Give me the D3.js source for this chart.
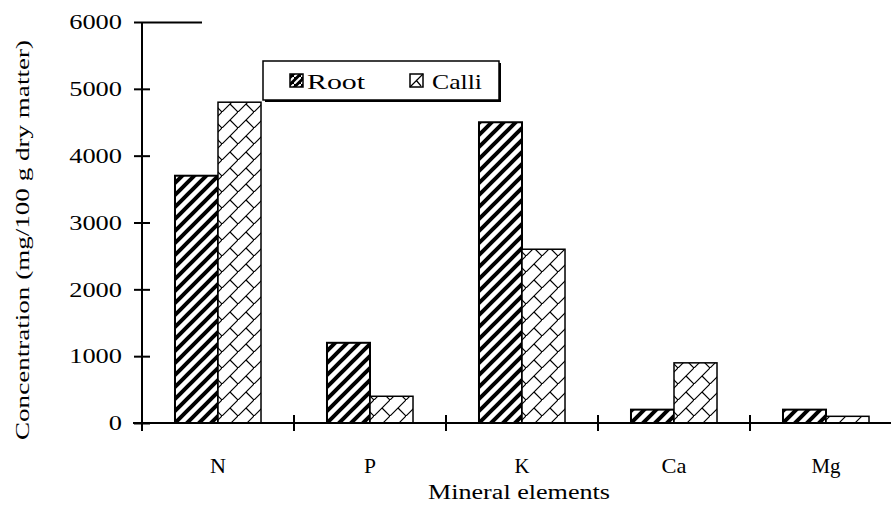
<!DOCTYPE html>
<html>
<head>
<meta charset="utf-8">
<script src="https://cdn.jsdelivr.net/npm/d3@7"></script>
<style>
  body { margin: 0; background: #fff; }
  text { font-family: "Liberation Serif", "Times New Roman", serif; fill: #000; }
</style>
</head>
<body>
<svg id="chart" width="891" height="506"></svg>
<script>
// data
let elements = ['N', 'P', 'K', 'Ca', 'Mg'];
let series = ['Root', 'Calli'];
let rootVals = [3700, 1200, 4500, 200, 200];
let calliVals = [4800, 400, 2600, 900, 100];
let yTicks = [0, 1000, 2000, 3000, 4000, 5000, 6000];

let svg = d3.select('#chart');

// patterns
let defs = svg.append('defs');
let pRoot = defs.append('pattern').attr('id', 'pRoot')
    .attr('patternUnits', 'userSpaceOnUse').attr('width', 12).attr('height', 12);
pRoot.append('rect').attr('width', 12).attr('height', 12).attr('fill', '#fff');
pRoot.append('path').attr('d', 'M-3,3 L3,-3 M0,12 L12,0 M9,15 L15,9')
    .attr('stroke', '#000').attr('stroke-width', 4);

let pCalli = defs.append('pattern').attr('id', 'pCalli')
    .attr('patternUnits', 'userSpaceOnUse').attr('width', 16).attr('height', 16);
pCalli.append('rect').attr('width', 16).attr('height', 16).attr('fill', '#fff');
pCalli.append('path').attr('d', 'M-1,17 L17,-1 M8,8 L16,16')
    .attr('stroke', '#000').attr('stroke-width', 1.2).attr('fill', 'none');

let pRootS = defs.append('pattern').attr('id', 'pRootS')
    .attr('patternUnits', 'userSpaceOnUse').attr('width', 7).attr('height', 7);
pRootS.append('rect').attr('width', 7).attr('height', 7).attr('fill', '#000');
pRootS.append('path').attr('d', 'M0,7 L7,0').attr('stroke', '#fff').attr('stroke-width', 2);

// scales
let x = d3.scaleBand().domain(elements).range([142, 902]).paddingInner(0).paddingOuter(0);
let xs = d3.scaleBand().domain(series).range([0, x.bandwidth()]).paddingInner(0).paddingOuter(0.767);
let y = d3.scaleLinear().domain([0, 6000]).range([423, 22]);

// bars
let groups = svg.append('g').selectAll('g').data(elements).join('g')
    .attr('transform', d => 'translate(' + x(d) + ',0)');

groups.append('rect')
    .attr('x', xs('Root')).attr('width', xs.bandwidth())
    .attr('y', (d, i) => y(rootVals[i]))
    .attr('height', (d, i) => y(0) - y(rootVals[i]))
    .attr('fill', 'url(#pRoot)').attr('stroke', '#000').attr('stroke-width', 2);

groups.append('rect')
    .attr('x', xs('Calli')).attr('width', xs.bandwidth())
    .attr('y', (d, i) => y(calliVals[i]))
    .attr('height', (d, i) => y(0) - y(calliVals[i]))
    .attr('fill', 'url(#pCalli)').attr('stroke', '#000').attr('stroke-width', 1.5);

// y axis
let yAxis = svg.append('g').attr('transform', 'translate(142,0)')
    .call(d3.axisLeft(y).tickValues(yTicks).tickSize(8).tickPadding(12).tickFormat(d3.format('d')));
yAxis.attr('font-family', null);
yAxis.select('.domain').attr('stroke', '#000').attr('stroke-width', 2).attr('d', 'M0,22V431');
yAxis.selectAll('.tick line').attr('x2', -8).attr('x1', d => d == 6000 ? 60 : 8)
    .attr('stroke', '#000').attr('stroke-width', 2);
yAxis.selectAll('.tick text')
    .style('font-size', '20px')
    .attr('textLength', d => String(d).length * 13.2).attr('lengthAdjust', 'spacingAndGlyphs')
    .attr('dy', '0.34em');

// x axis
let xAxis = svg.append('g');
xAxis.append('line').attr('x1', 133).attr('x2', 891).attr('y1', y(0)).attr('y2', y(0))
    .attr('stroke', '#000').attr('stroke-width', 2);
xAxis.selectAll('.xt').data(elements.slice(1)).join('line').attr('class', 'xt')
    .attr('x1', d => x(d)).attr('x2', d => x(d))
    .attr('y1', y(0) - 8).attr('y2', y(0) + 8)
    .attr('stroke', '#000').attr('stroke-width', 2);
let labW = { N: 16, P: 12, K: 15, Ca: 25, Mg: 29 };
xAxis.selectAll('.xl').data(elements).join('text').attr('class', 'xl')
    .attr('x', d => x(d) + x.bandwidth() / 2).attr('y', 473)
    .attr('text-anchor', 'middle').style('font-size', '22px')
    .attr('textLength', d => labW[d]).attr('lengthAdjust', 'spacingAndGlyphs')
    .text(d => d);

// axis titles
svg.append('text').attr('x', 519).attr('y', 499).attr('text-anchor', 'middle')
    .style('font-size', '20px').attr('textLength', 182).attr('lengthAdjust', 'spacingAndGlyphs')
    .text('Mineral elements');
svg.append('text').attr('transform', 'translate(29,240) rotate(-90)').attr('text-anchor', 'middle')
    .style('font-size', '19px').attr('textLength', 400).attr('lengthAdjust', 'spacingAndGlyphs')
    .text('Concentration (mg/100 g dry matter)');

// legend
let lg = svg.append('g');
lg.append('rect').attr('x', 265).attr('y', 63).attr('width', 236).attr('height', 39).attr('fill', '#000');
lg.append('rect').attr('x', 263).attr('y', 61).attr('width', 236).attr('height', 39)
    .attr('fill', '#fff').attr('stroke', '#000').attr('stroke-width', 1.5);
lg.append('rect').attr('x', 290).attr('y', 74).attr('width', 13).attr('height', 13)
    .attr('fill', 'url(#pRootS)').attr('stroke', '#000').attr('stroke-width', 1.5);
lg.append('rect').attr('x', 410).attr('y', 74).attr('width', 13).attr('height', 13)
    .attr('fill', '#fff').attr('stroke', '#000').attr('stroke-width', 1.5);
lg.append('path').attr('d', 'M410,87 L423,74 M416,80 L421,86').attr('stroke', '#000').attr('stroke-width', 1.2);
lg.append('text').attr('x', 307).attr('y', 89).style('font-size', '21px')
    .attr('textLength', 58).attr('lengthAdjust', 'spacingAndGlyphs').text(series[0]);
lg.append('text').attr('x', 432).attr('y', 89).style('font-size', '21px')
    .attr('textLength', 50).attr('lengthAdjust', 'spacingAndGlyphs').text(series[1]);
</script>
</body>
</html>
